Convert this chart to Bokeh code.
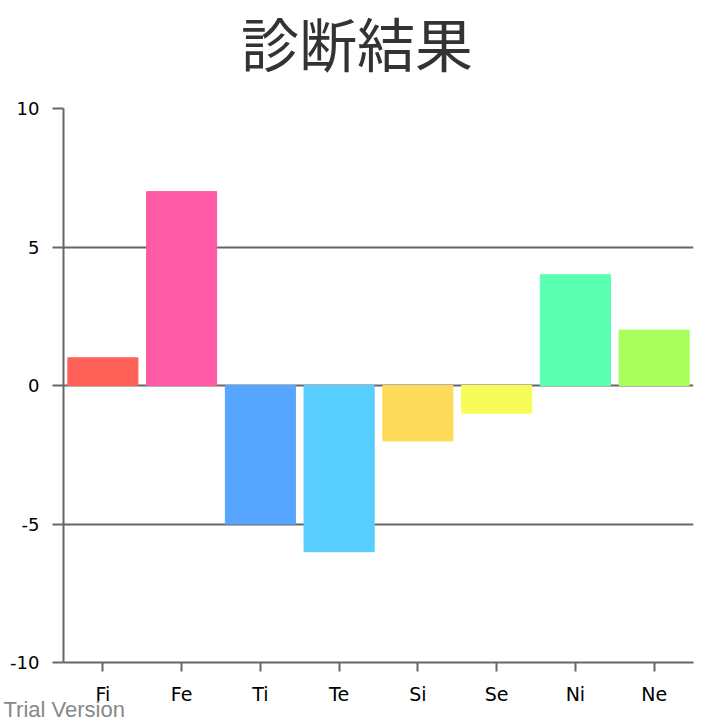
from bokeh.plotting import figure
from bokeh.models import FactorRange, Range1d, FixedTicker, Title, ColumnDataSource, Div
from bokeh.layouts import column
from bokeh.embed import file_html
from bokeh.resources import INLINE

categories = ["Fi", "Fe", "Ti", "Te", "Si", "Se", "Ni", "Ne"]
values = [1, 7, -5, -6, -2, -1, 4, 2]
colors = ["#FF6158", "#FF5AA6", "#56A5FF", "#57CEFF", "#FEDB5A", "#F8FC56", "#5BFFB2", "#A8FF5C"]
y_ticks = [-10, -5, 0, 5, 10]
y_labels = ["-10", "-5", "0", "5", "10"]
title_text = "診断結果"
watermark = "Trial Version"

src = ColumnDataSource(dict(cat=categories, val=values, col=colors))

header = Div(text=title_text, width=714, height=88, margin=(0, 0, 0, 0),
             styles={"font-family": "'Noto Sans CJK JP'", "font-size": "58px",
                     "color": "#333333", "text-align": "center",
                     "line-height": "58px", "padding-top": "13px",
                     "width": "714px"})

p = figure(x_range=FactorRange(*categories, range_padding=0),
           y_range=Range1d(-10, 10),
           frame_width=630, frame_height=554,
           min_border_left=63, min_border_right=21,
           min_border_top=20, min_border_bottom=58,
           output_backend="svg", toolbar_location=None,
           background_fill_color="white", border_fill_color="white",
           margin=(0, 0, 0, 0))
p.outline_line_color = None

p.vbar(x="cat", top="val", bottom=0, width=0.89, color="col", source=src)

gray = "#666666"
p.xgrid.grid_line_color = None
p.ygrid.grid_line_color = gray
p.ygrid.grid_line_width = 2
p.ygrid.grid_line_alpha = 1
p.yaxis.ticker = FixedTicker(ticks=y_ticks)
p.yaxis.major_label_overrides = {t: s for t, s in zip(y_ticks, y_labels)}

for ax in (p.xaxis[0], p.yaxis[0]):
    ax.axis_line_color = gray
    ax.axis_line_width = 2
    ax.major_tick_line_color = gray
    ax.major_tick_line_width = 2
    ax.minor_tick_line_color = None
    ax.major_tick_in = 0
    ax.major_label_text_font = "DejaVu Sans"
    ax.major_label_text_color = "black"

p.yaxis.major_tick_out = 11
p.yaxis.major_label_standoff = 13
p.yaxis.major_label_text_font_size = "18px"
p.xaxis.major_tick_out = 9
p.xaxis.major_label_standoff = 11
p.xaxis.major_label_text_font_size = "19px"

p.add_layout(Title(text=watermark, align="left", offset=-60, standoff=-28,
                   text_font="Liberation Sans", text_font_size="22px",
                   text_font_style="normal", text_color="#888888"), "below")

layout = column(header, p, spacing=0)
open("out.html", "w").write(file_html(layout, INLINE))
